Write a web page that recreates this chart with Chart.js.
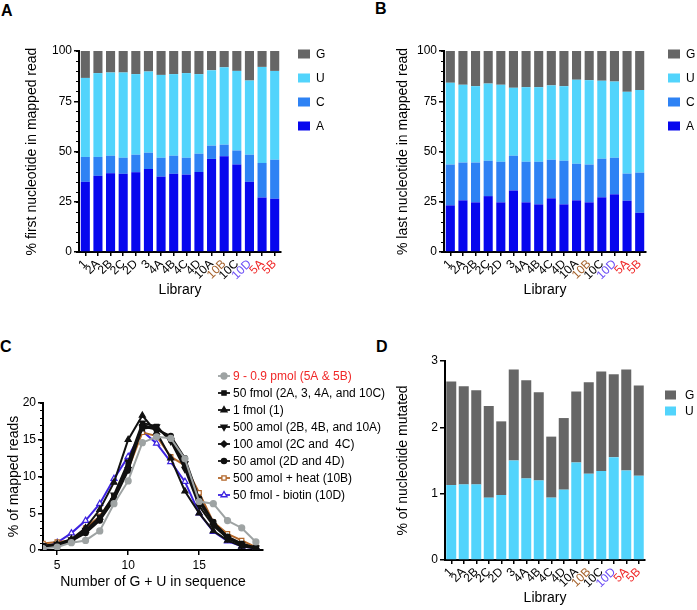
<!DOCTYPE html>
<html>
<head>
<meta charset="utf-8">
<script src="https://cdn.jsdelivr.net/npm/chart.js@4/dist/chart.umd.min.js"></script>
<style>
body { margin: 0; background: #fff; }
#wrap { position: relative; width: 697px; height: 610px; font-family: "Liberation Sans", Arial, sans-serif; }
.box { position: absolute; }
.tag { position: absolute; font-weight: bold; font-size: 16px; line-height: 16px; color: #000; }
</style>
</head>
<body>
<div id="wrap">
  <div class="tag" style="left:1px;top:3px">A</div>
  <div class="tag" style="left:375px;top:1px">B</div>
  <div class="tag" style="left:0px;top:339px">C</div>
  <div class="tag" style="left:376px;top:339px">D</div>
  <div class="box" style="left:0;top:0"><canvas id="chartA" width="345" height="302"></canvas></div>
  <div class="box" style="left:345px;top:0"><canvas id="chartB" width="352" height="302"></canvas></div>
  <div class="box" style="left:0;top:305px"><canvas id="chartC" width="390" height="305"></canvas></div>
  <div class="box" style="left:345px;top:305px"><canvas id="chartD" width="352" height="305"></canvas></div>
</div>
<script>
// libraries on the x axis of A, B and D
var libraries = ["1", "2A", "2B", "2C", "2D", "3", "4A", "4B", "4C", "4D", "10A", "10B", "10C", "10D", "5A", "5B"];

// A: first nucleotide (%)
var firstA = [34.9, 37.9, 39.2, 38.9, 39.7, 41.3, 37.5, 38.9, 38.5, 39.8, 46.3, 47.6, 43.5, 34.9, 27.1, 26.5];
var firstC = [12.4, 9.4, 8.7, 8.0, 8.7, 8.1, 9.4, 9.0, 8.4, 9.1, 6.6, 5.8, 7.0, 13.5, 17.2, 19.4];
var firstU = [39.3, 41.7, 41.4, 42.4, 40.1, 40.4, 41.2, 40.6, 42.1, 39.6, 37.5, 38.5, 39.6, 36.9, 47.8, 44.2];
var firstG = [13.4, 11.0, 10.7, 10.7, 11.5, 10.2, 11.9, 11.5, 11.0, 11.5, 9.6, 8.1, 9.9, 14.7, 7.9, 9.9];

// B: last nucleotide (%)
var lastA = [23.2, 25.7, 24.7, 27.8, 24.7, 30.6, 24.7, 23.7, 26.7, 23.7, 25.7, 24.7, 27.2, 28.7, 25.5, 19.5];
var lastC = [20.3, 18.8, 19.8, 17.6, 20.2, 17.3, 20.2, 21.2, 19.2, 21.7, 18.2, 18.8, 19.2, 18.2, 13.5, 20.0];
var lastU = [40.7, 38.7, 38.0, 38.4, 38.3, 33.8, 37.1, 37.1, 37.0, 37.1, 41.8, 42.0, 38.8, 37.9, 40.7, 41.1];
var lastG = [15.8, 16.8, 17.5, 16.2, 16.8, 18.3, 18.0, 18.0, 17.1, 17.5, 14.3, 14.5, 14.8, 15.2, 20.3, 19.4];

// D: % of nucleotide mutated
var mutU = [1.13, 1.14, 1.14, 0.94, 0.98, 1.50, 1.23, 1.20, 0.94, 1.06, 1.47, 1.30, 1.34, 1.55, 1.35, 1.27];
var mutG = [1.56, 1.48, 1.42, 1.38, 1.11, 1.37, 1.48, 1.33, 0.92, 1.08, 1.07, 1.38, 1.50, 1.25, 1.52, 1.36];

// C: % of mapped reads by number of G + U
var gcCounts = [4, 5, 6, 7, 8, 9, 10, 11, 12, 13, 14, 15, 16, 17, 18, 19];
var pmol9 = [0.2, 0.4, 1.0, 1.3, 2.6, 6.3, 9.4, 14.6, 15.4, 15.2, 12.4, 6.6, 6.3, 4.0, 3.0, 1.1];
var fmol50 = [0.5, 0.7, 1.3, 2.5, 4.3, 7.2, 11.5, 16.5, 16.8, 15.0, 11.5, 6.5, 3.7, 1.8, 0.9, 0.3];
var fmol1 = [0.4, 0.8, 1.5, 3.0, 5.5, 9.2, 15.0, 18.3, 16.0, 12.5, 8.0, 5.0, 2.6, 1.3, 0.5, 0.2];
var amol500 = [0.6, 0.8, 1.4, 2.7, 4.5, 7.5, 12.0, 17.3, 16.8, 14.8, 11.0, 6.0, 3.3, 1.6, 0.7, 0.3];
var amol100 = [0.5, 0.7, 1.3, 2.4, 4.2, 7.0, 11.2, 17.0, 16.5, 15.2, 12.0, 6.8, 3.5, 1.6, 0.7, 0.2];
var amol50 = [0.5, 0.6, 1.2, 2.3, 4.0, 6.8, 10.8, 16.8, 16.4, 15.5, 12.5, 7.0, 3.8, 1.8, 0.8, 0.3];
var amol500heat = [0.9, 1.1, 1.3, 3.0, 4.6, 7.3, 11.0, 16.0, 15.5, 12.7, 11.5, 7.8, 3.8, 2.2, 1.3, 0.4];
var fmol50biotin = [0.3, 1.0, 2.3, 4.0, 6.3, 9.7, 12.7, 16.2, 14.5, 12.0, 9.3, 5.0, 2.5, 1.2, 0.5, 0.2];
var seriesNames = ["9 - 0.9 pmol (5A & 5B)", "50 fmol (2A, 3, 4A, and 10C)", "1 fmol (1)",
  "500 amol (2B, 4B, and 10A)", "100 amol (2C and  4C)", "50 amol (2D and 4D)",
  "500 amol + heat (10B)", "50 fmol - biotin (10D)"];

var pctTicks = [0, 25, 50, 75, 100];
var mutTicks = [0, 1, 2, 3];
var readTicks = [0, 5, 10, 15, 20];
var countTicks = [5, 10, 15];

var FONT = '"Liberation Sans", Arial, sans-serif';
var libColor = { "10B": "#a5622c", "10D": "#6a4cf5", "5A": "#f02828", "5B": "#f02828" };
var nucColor = { G: "#666666", U: "#52d4fc", C: "#2e82f4", A: "#0707ee" };

Chart.defaults.font.family = FONT;
Chart.defaults.color = "#000";

// legend drawn by hand beside the plot
var sideLegend = {
  id: "sideLegend",
  afterDraw: function(chart, args, opts) {
    var ctx = chart.ctx;
    var sets = chart.data.datasets.slice();
    if (opts.reverse) sets.reverse();
    ctx.save();
    ctx.font = opts.size + "px " + FONT;
    ctx.textBaseline = "middle";
    sets.forEach(function(ds, i) {
      var y = opts.y + i * opts.dy;
      if (opts.marker === "box") {
        ctx.fillStyle = ds.backgroundColor;
        ctx.fillRect(opts.x, y - opts.bh / 2, opts.bw, opts.bh);
      } else {
        ctx.strokeStyle = ds.borderColor;
        ctx.lineWidth = 1.8;
        ctx.beginPath();
        ctx.moveTo(opts.x - 6, y);
        ctx.lineTo(opts.x + 6, y);
        ctx.stroke();
        ctx.fillStyle = ds.pointBackgroundColor;
        ctx.lineWidth = 1.3;
        Chart.helpers.drawPoint(ctx, { pointStyle: ds.pointStyle, radius: ds.pointRadius, rotation: ds.pointRotation || 0, borderWidth: 1.3 }, opts.x, y);
      }
      ctx.fillStyle = (opts.textColors && opts.textColors[i]) || "#000";
      ctx.fillText(ds.label, opts.tx, y + 0.5);
    });
    ctx.restore();
  }
};

// short minor ticks on the y axis
var minorTicks = {
  id: "minorTicks",
  afterDraw: function(chart, args, opts) {
    if (!opts.step) return;
    var s = chart.scales.y;
    var ctx = chart.ctx;
    ctx.save();
    ctx.strokeStyle = "#000";
    ctx.lineWidth = 1;
    ctx.beginPath();
    for (var v = s.min; v <= s.max + 1e-9; v += opts.step) {
      var py = Math.round(s.getPixelForValue(v)) + 0.5;
      ctx.moveTo(s.right - 3, py);
      ctx.lineTo(s.right, py);
    }
    ctx.stroke();
    ctx.restore();
  }
};

function fixedTicks(list) {
  return function(scale) {
    scale.ticks = list.map(function(v) { return { value: v }; });
  };
}

function libraryAxis(h) {
  return {
    type: "category",
    stacked: true,
    offset: true,
    afterFit: function(s) { s.height = h; },
    grid: { display: true, drawOnChartArea: false, drawTicks: true, tickLength: 4, color: "#000", lineWidth: 1.5, offset: false },
    border: { display: true, color: "#000", width: 2 },
    ticks: {
      autoSkip: false, minRotation: 45, maxRotation: 45, padding: 1,
      font: { size: 12 },
      color: function(c) { return libColor[libraries[c.index]] || "#000"; }
    },
    title: { display: true, text: "Library", font: { size: 14 }, padding: { top: 2, bottom: 3 } }
  };
}

function valueAxis(title, max, list, w) {
  return {
    stacked: true,
    min: 0, max: max,
    afterFit: function(s) { s.width = w; },
    afterBuildTicks: fixedTicks(list),
    grid: { display: true, drawOnChartArea: false, drawTicks: true, tickLength: 5, color: "#000", lineWidth: 1.5 },
    border: { display: true, color: "#000", width: 2 },
    ticks: { font: { size: 12 }, padding: 2 },
    title: { display: true, text: title, font: { size: 14 }, padding: { top: 4, bottom: 4 } }
  };
}

function stackedChart(id, a, c, u, g, yTitle, pad, yw, legendX) {
  new Chart(document.getElementById(id), {
    type: "bar",
    data: {
      labels: libraries,
      datasets: [
        { label: "A", data: a, backgroundColor: nucColor.A },
        { label: "C", data: c, backgroundColor: nucColor.C },
        { label: "U", data: u, backgroundColor: nucColor.U },
        { label: "G", data: g, backgroundColor: nucColor.G }
      ]
    },
    options: {
      responsive: false,
      animation: false,
      devicePixelRatio: 1,
      datasets: { bar: { barPercentage: 0.72, categoryPercentage: 1 } },
      layout: { padding: pad },
      scales: {
        x: libraryAxis(50),
        y: valueAxis(yTitle, 100, pctTicks, yw)
      },
      plugins: {
        legend: { display: false },
        tooltip: { enabled: false },
        sideLegend: { reverse: true, marker: "box", x: legendX, tx: legendX + 18, y: 54, dy: 24, bw: 12, bh: 9, size: 12 },
        minorTicks: { step: 5 }
      }
    },
    plugins: [sideLegend, minorTicks]
  });
}

stackedChart("chartA", firstA, firstC, firstU, firstG, "% first nucleotide in mapped read",
  { left: 20, top: 51, right: 64, bottom: 0 }, 59, 298);
stackedChart("chartB", lastA, lastC, lastU, lastG, "% last nucleotide in mapped read",
  { left: 46, top: 51, right: 51, bottom: 0 }, 53, 323);

// D
new Chart(document.getElementById("chartD"), {
  type: "bar",
  data: {
    labels: libraries,
    datasets: [
      { label: "U", data: mutU, backgroundColor: nucColor.U },
      { label: "G", data: mutG, backgroundColor: nucColor.G }
    ]
  },
  options: {
    responsive: false,
    animation: false,
    devicePixelRatio: 1,
    datasets: { bar: { barPercentage: 0.8, categoryPercentage: 1 } },
    layout: { padding: { left: 46, top: 56, right: 52, bottom: 0 } },
    scales: {
      x: libraryAxis(50),
      y: valueAxis("% of nucleotide mutated", 3, mutTicks, 54)
    },
    plugins: {
      legend: { display: false },
      tooltip: { enabled: false },
      sideLegend: { reverse: true, marker: "box", x: 320, tx: 340, y: 90, dy: 16, bw: 11, bh: 9, size: 12 }
    }
  },
  plugins: [sideLegend]
});

// C
function pts(vals) {
  return gcCounts.map(function(n, i) { return { x: n, y: vals[i] }; });
}
function lineSet(i, vals, color, style, opts) {
  var ds = {
    label: seriesNames[i], data: pts(vals),
    borderColor: color, backgroundColor: color,
    pointBackgroundColor: color, pointBorderColor: color,
    pointStyle: style, pointRadius: 3, pointBorderWidth: 1.2,
    borderWidth: 2, tension: 0, showLine: true
  };
  for (var k in opts) ds[k] = opts[k];
  return ds;
}
var gray = "#9ea3a3", black = "#111111", brown = "#b3672a", violet = "#3c22e0";
new Chart(document.getElementById("chartC"), {
  type: "scatter",
  data: {
    datasets: [
      lineSet(0, pmol9, gray, "circle", {}),
      lineSet(1, fmol50, black, "rect", { pointRadius: 3 }),
      lineSet(2, fmol1, black, "triangle", { pointRadius: 3.5 }),
      lineSet(3, amol500, black, "triangle", { pointRadius: 3.5, pointRotation: 180 }),
      lineSet(4, amol100, black, "rectRot", { pointRadius: 3.2 }),
      lineSet(5, amol50, black, "circle", { pointRadius: 2.6 }),
      lineSet(6, amol500heat, brown, "rect", { pointBackgroundColor: "#fff", pointRadius: 3 }),
      lineSet(7, fmol50biotin, violet, "triangle", { pointBackgroundColor: "#fff", pointRadius: 3.5 })
    ]
  },
  options: {
    responsive: false,
    animation: false,
    devicePixelRatio: 1,
    layout: { padding: { left: 2, top: 98, right: 127, bottom: 15 } },
    scales: {
      x: {
        type: "linear", min: 4, max: 19.5,
        afterFit: function(s) { s.height = 45; },
        afterBuildTicks: fixedTicks(countTicks),
        grid: { display: true, drawOnChartArea: false, drawTicks: true, tickLength: 5, color: "#000", lineWidth: 1.5 },
        border: { display: true, color: "#000", width: 2 },
        ticks: { font: { size: 12 }, padding: 3 },
        title: { display: true, text: "Number of G + U in sequence", font: { size: 14 }, padding: { top: 4, bottom: 4 } }
      },
      y: {
        min: 0, max: 20,
        afterFit: function(s) { s.width = 41; },
        afterBuildTicks: fixedTicks(readTicks),
        grid: { display: true, drawOnChartArea: false, drawTicks: true, tickLength: 5, color: "#000", lineWidth: 1.5 },
        border: { display: true, color: "#000", width: 2 },
        ticks: { font: { size: 12 }, padding: 2 },
        title: { display: true, text: "% of mapped reads", font: { size: 14 }, padding: { top: 4, bottom: 4 } }
      }
    },
    plugins: {
      legend: { display: false },
      tooltip: { enabled: false },
      sideLegend: { marker: "line", x: 224, tx: 233, y: 71, dy: 17, size: 12, textColors: ["#f02828"] },
      minorTicks: { step: 1 }
    }
  },
  plugins: [sideLegend, minorTicks]
});
</script>
</body>
</html>
